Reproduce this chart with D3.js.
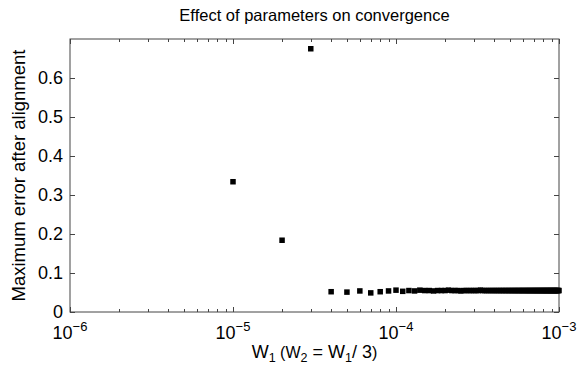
<!DOCTYPE html>
<html><head><meta charset="utf-8">
<script src="https://cdn.jsdelivr.net/npm/d3@7"></script>
<style>body{margin:0;background:#fff}svg{display:block}text{font-family:"Liberation Sans",Arial,sans-serif;fill:#000}</style>
</head><body><svg id="c" width="581" height="372"></svg>
<script>
const title = "Effect of parameters on convergence";
const yLabel = "Maximum error after alignment";
const xDomain = [1e-6, 1e-3];
const yDomain = [0, 0.7];
const xTickExps = [-6, -5, -4, -3];
const yTickValues = [0, 0.1, 0.2, 0.3, 0.4, 0.5, 0.6];
const yTickLabels = ["0", "0.1", "0.2", "0.3", "0.4", "0.5", "0.6"];
const w1Values = [1e-5,2e-5,3e-5,4e-5,5e-5,6e-5,7e-5,8e-5,9e-5,
 1.0e-4,1.1e-4,1.2e-4,1.3e-4,1.4e-4,1.5e-4,1.6e-4,1.7e-4,1.8e-4,1.9e-4,
 2.0e-4,2.1e-4,2.2e-4,2.3e-4,2.4e-4,2.5e-4,2.6e-4,2.7e-4,2.8e-4,2.9e-4,
 3.0e-4,3.1e-4,3.2e-4,3.3e-4,3.4e-4,3.5e-4,3.6e-4,3.7e-4,3.8e-4,3.9e-4,
 4.0e-4,4.1e-4,4.2e-4,4.3e-4,4.4e-4,4.5e-4,4.6e-4,4.7e-4,4.8e-4,4.9e-4,
 5.0e-4,5.1e-4,5.2e-4,5.3e-4,5.4e-4,5.5e-4,5.6e-4,5.7e-4,5.8e-4,5.9e-4,
 6.0e-4,6.1e-4,6.2e-4,6.3e-4,6.4e-4,6.5e-4,6.6e-4,6.7e-4,6.8e-4,6.9e-4,
 7.0e-4,7.1e-4,7.2e-4,7.3e-4,7.4e-4,7.5e-4,7.6e-4,7.7e-4,7.8e-4,7.9e-4,
 8.0e-4,8.1e-4,8.2e-4,8.3e-4,8.4e-4,8.5e-4,8.6e-4,8.7e-4,8.8e-4,8.9e-4,
 9.0e-4,9.1e-4,9.2e-4,9.3e-4,9.4e-4,9.5e-4,9.6e-4,9.7e-4,9.8e-4,9.9e-4,1.0e-3];
const maxError = [0.334,0.184,0.675,0.052,0.051,0.054,0.049,0.052,0.054,
 0.056,0.053,0.055,0.054,0.056,0.055,0.055,0.054,0.055,0.055,
 0.055,0.056,0.055,0.055,0.055,0.054,0.055,0.055,0.055,0.055,
 0.055,0.055,0.055,0.056,0.055,0.055,0.055,0.055,0.055,0.055,
 0.055,0.055,0.055,0.055,0.055,0.055,0.055,0.055,0.055,0.055,
 0.055,0.055,0.055,0.055,0.055,0.055,0.055,0.055,0.055,0.055,
 0.055,0.055,0.055,0.055,0.055,0.055,0.055,0.055,0.055,0.055,
 0.055,0.055,0.055,0.055,0.055,0.055,0.055,0.055,0.055,0.055,
 0.055,0.055,0.055,0.055,0.055,0.055,0.055,0.055,0.055,0.055,
 0.055,0.055,0.055,0.055,0.055,0.055,0.055,0.055,0.055,0.055,0.055];

const svg = d3.select("#c");
const L = 70, R = 559, T = 39, B = 312;
const x = d3.scaleLog().domain(xDomain).range([L, R]);
const y = d3.scaleLinear().domain(yDomain).range([B, T]);
const axisColor = "#444";

svg.append("rect").attr("x", L).attr("y", T).attr("width", R - L).attr("height", B - T)
  .attr("fill", "none").attr("stroke", axisColor).attr("stroke-width", 1);

const minor = [];
for (let e = -6; e < -3; e++) for (let m = 2; m <= 9; m++) minor.push(m * Math.pow(10, e));
const major = xTickExps.map(e => Math.pow(10, e));
const tg = svg.append("g").attr("stroke", axisColor).attr("stroke-width", 1);
major.forEach(v => {
  const px = Math.round(x(v)) + 0.5;
  tg.append("line").attr("x1", px).attr("x2", px).attr("y1", B).attr("y2", B - 5);
  tg.append("line").attr("x1", px).attr("x2", px).attr("y1", T).attr("y2", T + 5);
});
minor.forEach(v => {
  const px = Math.round(x(v)) + 0.5;
  tg.append("line").attr("x1", px).attr("x2", px).attr("y1", B).attr("y2", B - 3);
  tg.append("line").attr("x1", px).attr("x2", px).attr("y1", T).attr("y2", T + 3);
});
yTickValues.forEach(v => {
  const py = Math.round(y(v)) + 0.5;
  tg.append("line").attr("x1", L).attr("x2", L + 5).attr("y1", py).attr("y2", py);
  tg.append("line").attr("x1", R).attr("x2", R - 5).attr("y1", py).attr("y2", py);
});

svg.append("g").selectAll("text").data(yTickValues).join("text")
  .attr("x", L - 7).attr("y", d => y(d)).attr("dy", "0.36em")
  .attr("text-anchor", "end").attr("font-size", 18)
  .text((d, i) => yTickLabels[i]);

const xl = svg.append("g");
xTickExps.forEach(e => {
  const t = xl.append("text").attr("x", x(Math.pow(10, e))).attr("y", 339)
    .attr("text-anchor", "middle").attr("font-size", 18);
  t.append("tspan").text("10");
  t.append("tspan").attr("font-size", 13).attr("dy", -8).text("\u2212" + Math.abs(e));
});

svg.append("g").selectAll("rect").data(w1Values).join("rect")
  .attr("x", d => x(d) - 2.75).attr("y", (d, i) => y(maxError[i]) - 2.75)
  .attr("width", 5.5).attr("height", 5.5).attr("fill", "#000");

svg.append("text").attr("x", (L + R) / 2).attr("y", 21).attr("text-anchor", "middle")
  .attr("font-size", 16.5).text(title);

const xt = svg.append("text").attr("x", (L + R) / 2).attr("y", 358).attr("text-anchor", "middle")
  .attr("font-size", 18);
xt.append("tspan").text("W");
xt.append("tspan").attr("font-size", 12.5).attr("dy", 4).text("1");
xt.append("tspan").attr("font-size", 16).attr("dy", -4).text(" (W");
xt.append("tspan").attr("font-size", 12.5).attr("dy", 4).text("2");
xt.append("tspan").attr("font-size", 18).attr("dy", -4).text(" = W");
xt.append("tspan").attr("font-size", 12.5).attr("dy", 4).text("1");
xt.append("tspan").attr("font-size", 18).attr("dy", -4).text("/ 3");
xt.append("tspan").attr("font-size", 16).text(")");

svg.append("text").attr("transform", `translate(25,${(T + B) / 2}) rotate(-90)`)
  .attr("text-anchor", "middle").attr("font-size", 18.5).text(yLabel);
</script></body></html>
